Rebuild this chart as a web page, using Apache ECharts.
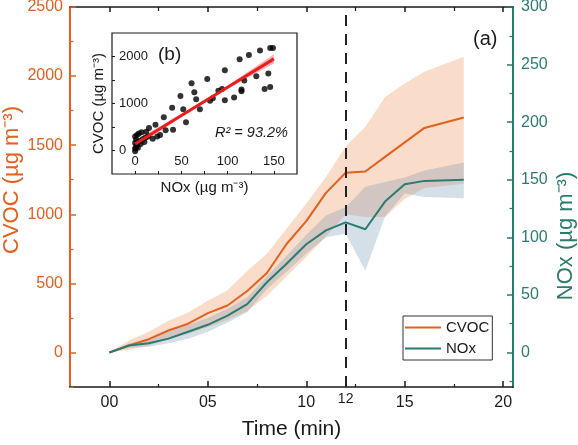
<!DOCTYPE html>
<html>
<head>
<meta charset="utf-8">
<script src="https://cdn.jsdelivr.net/npm/echarts@6/dist/echarts.min.js"></script>
<style>html,body{margin:0;padding:0;background:#fff}#c{width:578px;height:445px}</style>
</head>
<body>
<div id="c"></div>
<script>
// ---- main panel (a) data ----
const times   = [0, 1, 2, 3, 4, 5, 6, 7, 8, 9, 10, 11, 12, 13, 14, 15, 16, 18];
const cvoc    = [0, 51, 96, 159, 208, 285, 340, 445, 575, 785, 950, 1155, 1300, 1310, 1415, 1520, 1625, 1700];
const cvocUp  = [0, 87, 150, 230, 290, 375, 450, 590, 715, 896, 1078, 1270, 1490, 1633, 1848, 1947, 2031, 2140];
const cvocLo  = [0, 20, 50, 95, 135, 185, 235, 300, 410, 550, 690, 840, 1000, 980, 980, 1110, 1190, 1220];
const nox     = [0, 6, 8, 12, 18, 24, 32, 42, 61, 77, 94, 106, 113, 107, 131, 146, 149, 150];
const noxUp   = [0, 8, 12, 18, 24, 30, 38, 48, 66, 84, 102, 119, 126, 144, 148, 152, 158, 165];
const noxLo   = [0, 4, 5, 8, 12, 18, 26, 35, 55, 70, 86, 100, 103, 71, 118, 138, 135, 134];
const xTicks  = [0, 5, 10, 15, 20];
const xMinor  = [2.5, 7.5, 12.5, 17.5];
const markTime = 12;
const cvocTicks = [0, 500, 1000, 1500, 2000, 2500];
const cvocMinor = [-250, 250, 750, 1250, 1750, 2250];
const noxTicks  = [0, 50, 100, 150, 200, 250, 300];
const noxMinor  = [-25, 25, 75, 125, 175, 225, 275];

// ---- inset panel (b) data: [NOx, CVOC] ----
const scatNox  = [0, 0, 1, 2, 0, 3, 5, 1, 8, 0, 2, 4, 7, 3, 6, 10, 12, 11, 14, 15, 19, 22, 24, 27, 31, 33, 40, 41, 49, 52, 55, 61, 64, 66, 70, 78, 81, 84, 90, 94, 97, 97, 107, 113, 115, 115, 118, 123, 131, 135, 140, 144, 146, 146, 149];
const scatCvoc = [-15, 40, 80, 120, 160, 180, 200, 230, 240, 300, 330, 360, 390, 60, 140, 180, 400, 270, 300, 480, 250, 550, 300, 330, 710, 430, 910, 440, 1160, 880, 600, 1430, 1240, 1090, 880, 1520, 1060, 1110, 1270, 1310, 1710, 1070, 1130, 1940, 1300, 1260, 1490, 2030, 1580, 2130, 1310, 1640, 1350, 2180, 2180];
const fitX  = [0, 50, 100, 150];
const fitY  = [140, 743, 1347, 1950];
const fitUp = [215, 778, 1382, 2050];
const fitLo = [65, 708, 1312, 1850];
const insetXTicks = [0, 25, 50, 75, 100, 125, 150];
const insetXLabels = [0, 50, 100, 150];
const insetYTicks = [0, 500, 1000, 1500, 2000];
const insetYLabels = [0, 1000, 2000];

const FONT = 'Liberation Sans, Arial, sans-serif';
const ORANGE = '#E4601E';
const TEAL = '#2B7B6F';
const BLACK = '#1a1a1a';
const plain = v => String(v);

function band(xs, up, lo, xi, yi, fill, z) {
  return {
    type: 'custom', xAxisIndex: xi, yAxisIndex: yi, z: z, silent: true, clip: true,
    data: xs.map((x, i) => [x, up[i], lo[i]]),
    encode: { x: 0, y: [1, 2] },
    renderItem: function (params, api) {
      if (params.dataIndex !== 0) return null;
      const pts = [];
      for (let i = 0; i < xs.length; i++) pts.push(api.coord([xs[i], up[i]]));
      for (let i = xs.length - 1; i >= 0; i--) pts.push(api.coord([xs[i], lo[i]]));
      return { type: 'polygon', shape: { points: pts }, style: { fill: fill } };
    }
  };
}

function ax(base, extra) { return Object.assign({}, base, extra); }

const xBase = { type: 'value', gridIndex: 0, min: -2, max: 20.5, splitLine: { show: false } };
const pad2 = v => (v < 10 ? '0' + v : '' + v);

const option = {
  animation: false,
  textStyle: { fontFamily: FONT },
  grid: [
    { left: 70, right: 65, top: 7, bottom: 58, containLabel: false, outerBoundsMode: 'none' },
    { left: 112, top: 33, width: 185, height: 141, show: true, backgroundColor: '#fff', borderColor: BLACK, borderWidth: 1.2, containLabel: false, outerBoundsMode: 'none' }
  ],
  legend: {
    data: [{ name: 'CVOC', icon: 'rect' }, { name: 'NOx', icon: 'rect' }],
    orient: 'vertical', left: 403, top: 316,
    padding: [4, 3, 4, 2], itemWidth: 36, itemHeight: 2, itemGap: 6,
    borderColor: '#333', borderWidth: 1, backgroundColor: '#fff',
    textStyle: { fontSize: 15, color: BLACK, fontFamily: FONT }
  },
  xAxis: [
    ax(xBase, {
      position: 'bottom',
      axisLine: { show: true, onZero: false, lineStyle: { color: BLACK, width: 1.5 } },
      axisTick: { show: true, inside: true, length: 6, lineStyle: { color: BLACK, width: 1.5 }, customValues: xTicks },
      axisLabel: { show: true, customValues: xTicks, formatter: pad2, fontSize: 16, color: BLACK, margin: 8, fontFamily: FONT },
      name: 'Time (min)', nameLocation: 'middle', nameGap: 32,
      nameTextStyle: { fontSize: 21, color: BLACK, fontFamily: FONT }
    }),
    ax(xBase, {
      position: 'bottom',
      axisLine: { show: false, onZero: false },
      axisTick: { show: true, inside: true, length: 3, lineStyle: { color: BLACK, width: 1.2 }, customValues: xMinor },
      axisLabel: { show: false }
    }),
    ax(xBase, {
      position: 'bottom',
      axisLine: { show: false, onZero: false },
      axisTick: { show: true, inside: true, length: 11, lineStyle: { color: BLACK, width: 1.5 }, customValues: [markTime] },
      axisLabel: { show: true, customValues: [markTime], formatter: plain, fontSize: 14, color: BLACK, margin: 5, fontFamily: FONT }
    }),
    ax(xBase, {
      position: 'top',
      axisLine: { show: true, onZero: false, lineStyle: { color: BLACK, width: 1.5 } },
      axisTick: { show: true, inside: true, length: 5, lineStyle: { color: BLACK, width: 1.5 }, customValues: xTicks },
      axisLabel: { show: false }
    }),
    ax(xBase, {
      position: 'top',
      axisLine: { show: false, onZero: false },
      axisTick: { show: true, inside: true, length: 4, lineStyle: { color: BLACK, width: 1.2 }, customValues: xMinor },
      axisLabel: { show: false }
    }),
    {
      type: 'value', gridIndex: 1, min: -25, max: 175, position: 'bottom', z: 10,
      splitLine: { show: false },
      axisLine: { show: false, onZero: false },
      axisTick: { show: true, inside: true, length: 3, lineStyle: { color: BLACK, width: 1 }, customValues: insetXTicks },
      axisLabel: { show: true, inside: true, customValues: insetXLabels, formatter: plain, fontSize: 13, color: BLACK, margin: 6, fontFamily: FONT },
      name: 'NOx (µg m⁻³)', nameLocation: 'middle', nameGap: 6,
      nameTextStyle: { fontSize: 15, color: BLACK, fontFamily: FONT, verticalAlign: 'top' }
    }
  ],
  yAxis: [
    {
      type: 'value', gridIndex: 0, min: -250, max: 2500, position: 'left',
      splitLine: { show: false },
      axisLine: { show: true, onZero: false, lineStyle: { color: ORANGE, width: 2 } },
      axisTick: { show: true, inside: true, length: 6, lineStyle: { color: ORANGE, width: 1.5 }, customValues: cvocTicks },
      axisLabel: { show: true, customValues: cvocTicks, formatter: plain, fontSize: 16, color: ORANGE, margin: 7, fontFamily: FONT }
    },
    {
      type: 'value', gridIndex: 0, min: -30, max: 300, position: 'right',
      splitLine: { show: false },
      axisLine: { show: true, onZero: false, lineStyle: { color: TEAL, width: 2 } },
      axisTick: { show: true, inside: true, length: 6, lineStyle: { color: TEAL, width: 1.5 }, customValues: noxTicks },
      axisLabel: { show: true, customValues: noxTicks, formatter: plain, fontSize: 16, color: TEAL, margin: 8, fontFamily: FONT }
    },
    {
      type: 'value', gridIndex: 0, min: -250, max: 2500, position: 'left',
      splitLine: { show: false }, axisLine: { show: false, onZero: false },
      axisTick: { show: true, inside: true, length: 3.5, lineStyle: { color: ORANGE, width: 1.2 }, customValues: cvocMinor },
      axisLabel: { show: false }
    },
    {
      type: 'value', gridIndex: 0, min: -30, max: 300, position: 'right',
      splitLine: { show: false }, axisLine: { show: false, onZero: false },
      axisTick: { show: true, inside: true, length: 3.5, lineStyle: { color: TEAL, width: 1.2 }, customValues: noxMinor },
      axisLabel: { show: false }
    },
    {
      type: 'value', gridIndex: 1, min: -500, max: 2500, position: 'left', z: 10,
      splitLine: { show: false }, axisLine: { show: false, onZero: false },
      axisTick: { show: true, inside: true, length: 3, lineStyle: { color: BLACK, width: 1 }, customValues: insetYTicks },
      axisLabel: { show: true, inside: true, customValues: insetYLabels, formatter: plain, fontSize: 13, color: BLACK, margin: 7, fontFamily: FONT },
      name: 'CVOC (µg m⁻³)', nameLocation: 'middle', nameGap: 6,
      nameTextStyle: { fontSize: 15, color: BLACK, fontFamily: FONT }
    }
  ],
  series: [
    band(times, cvocUp, cvocLo, 0, 0, 'rgba(240,140,80,0.30)', 1),
    band(times, noxUp, noxLo, 0, 1, 'rgba(100,140,170,0.28)', 2),
    {
      name: 'CVOC', type: 'line', xAxisIndex: 0, yAxisIndex: 0, z: 3,
      data: times.map((t, i) => [t, cvoc[i]]),
      symbol: 'none', color: ORANGE, lineStyle: { color: ORANGE, width: 2 },
      markLine: {
        silent: true, symbol: ['none', 'none'], label: { show: false },
        lineStyle: { color: '#222', width: 2, type: [11, 8] },
        data: [{ xAxis: markTime }]
      }
    },
    {
      name: 'NOx', type: 'line', xAxisIndex: 0, yAxisIndex: 1, z: 3,
      data: times.map((t, i) => [t, nox[i]]),
      symbol: 'none', color: TEAL, lineStyle: { color: TEAL, width: 2 }
    },
    band(fitX, fitUp, fitLo, 5, 4, 'rgba(240,90,100,0.45)', 6),
    {
      type: 'scatter', xAxisIndex: 5, yAxisIndex: 4, z: 7,
      data: scatNox.map((x, i) => [x, scatCvoc[i]]),
      symbolSize: 6, itemStyle: { color: '#000' }, silent: true
    },
    {
      type: 'line', xAxisIndex: 5, yAxisIndex: 4, z: 8,
      data: fitX.map((x, i) => [x, fitY[i]]),
      symbol: 'none', lineStyle: { color: '#EE1C1C', width: 3 }, silent: true
    }
  ],
  graphic: [
    { type: 'text', x: 12, y: 180, rotation: Math.PI / 2, z: 20,
      style: { text: 'CVOC (µg m⁻³)', fontSize: 22, fill: ORANGE, fontFamily: FONT, align: 'center', verticalAlign: 'middle' } },
    { type: 'text', x: 566, y: 236, rotation: Math.PI / 2, z: 20,
      style: { text: 'NOx (µg m⁻³)', fontSize: 22, fill: TEAL, fontFamily: FONT, align: 'center', verticalAlign: 'middle' } },
    { type: 'text', left: 473, top: 29, z: 20, style: { text: '(a)', fontSize: 20, fill: BLACK, fontFamily: FONT } },
    { type: 'text', left: 158, top: 45, z: 20, style: { text: '(b)', fontSize: 19, fill: BLACK, fontFamily: FONT } },
    { type: 'text', left: 215, top: 125, z: 20, style: { text: 'R² = 93.2%', fontSize: 14.5, fontStyle: 'italic', fill: BLACK, fontFamily: FONT } }
  ]
};

const chart = echarts.init(document.getElementById('c'), null, { renderer: 'canvas' });
chart.setOption(option);
</script>
</body>
</html>
